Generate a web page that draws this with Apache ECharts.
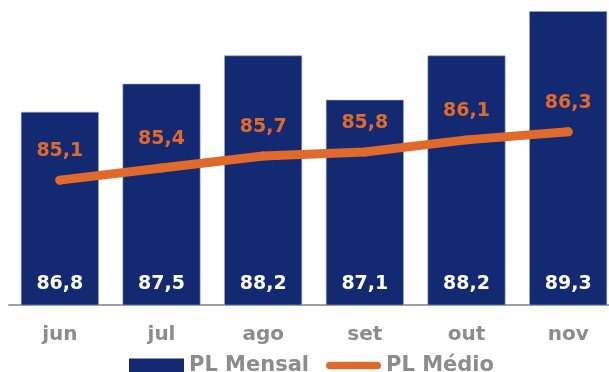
<!DOCTYPE html>
<html>
<head>
<meta charset="utf-8">
<script src="https://cdn.jsdelivr.net/npm/echarts@6/dist/echarts.min.js"></script>
<style>
  html, body { margin: 0; padding: 0; background: #ffffff; overflow: hidden; }
  #chart { width: 620px; height: 372px; }
</style>
</head>
<body>
<div id="chart"></div>
<script>
// Months on the category axis
const months = ['jun', 'jul', 'ago', 'set', 'out', 'nov'];
// Monthly PL (bars)
const plMensal = [86.8, 87.5, 88.2, 87.1, 88.2, 89.3];
// Average PL (line)
const plMedio = [85.1, 85.4, 85.7, 85.8, 86.1, 86.3];

const NAVY = '#132a72';
const ORANGE = '#e06a2c';
const GREY = '#8c8c8c';
const FONT = 'DejaVu Sans';

const fmt = v => v.toFixed(1).replace('.', ',');

const chart = echarts.init(document.getElementById('chart'), null, { renderer: 'canvas' });

chart.setOption({
  animation: false,
  grid: { left: 9, right: 1, top: 11, bottom: 67, containLabel: false },
  legend: {
    left: 124,
    top: 350,
    itemWidth: 55,
    itemHeight: 14,
    itemGap: 17,
    textStyle: { color: GREY, fontFamily: FONT, fontWeight: 'bold', fontSize: 21 },
    data: [
      { name: 'PL Mensal', icon: 'rect', itemStyle: { borderWidth: 0 } },
      { name: 'PL Médio', icon: 'path://M4,0 L54,0 A4,4 0 0 1 54,8 L4,8 A4,4 0 0 1 4,0 Z' }
    ]
  },
  xAxis: {
    type: 'category',
    data: months,
    axisTick: { show: false },
    axisLine: { lineStyle: { color: '#a0a0a0', width: 2 } },
    axisLabel: {
      margin: 20,
      color: GREY,
      fontFamily: FONT,
      fontWeight: 'bold',
      fontSize: 20
    }
  },
  yAxis: {
    type: 'value',
    min: 82,
    max: 89.3,
    show: false,
    splitLine: { show: false }
  },
  series: [
    {
      name: 'PL Mensal',
      type: 'bar',
      data: plMensal,
      barCategoryGap: '23%',
      itemStyle: { color: NAVY, borderColor: 'rgba(150,165,205,0.6)', borderWidth: 1 },
      label: {
        show: true,
        position: 'insideBottom',
        distance: 12,
        color: '#ffffff',
        fontFamily: FONT,
        fontWeight: 'bold',
        fontSize: 19,
        formatter: p => fmt(p.value)
      },
      z: 2
    },
    {
      name: 'PL Médio',
      type: 'line',
      data: plMedio,
      symbol: 'circle',
      symbolSize: 9,
      showSymbol: true,
      itemStyle: { color: ORANGE },
      lineStyle: { color: ORANGE, width: 9, cap: 'round', join: 'round' },
      label: {
        show: true,
        position: 'top',
        distance: 15,
        color: ORANGE,
        fontFamily: FONT,
        fontWeight: 'bold',
        fontSize: 19,
        formatter: p => fmt(p.value)
      },
      z: 3
    }
  ]
});
</script>
</body>
</html>
